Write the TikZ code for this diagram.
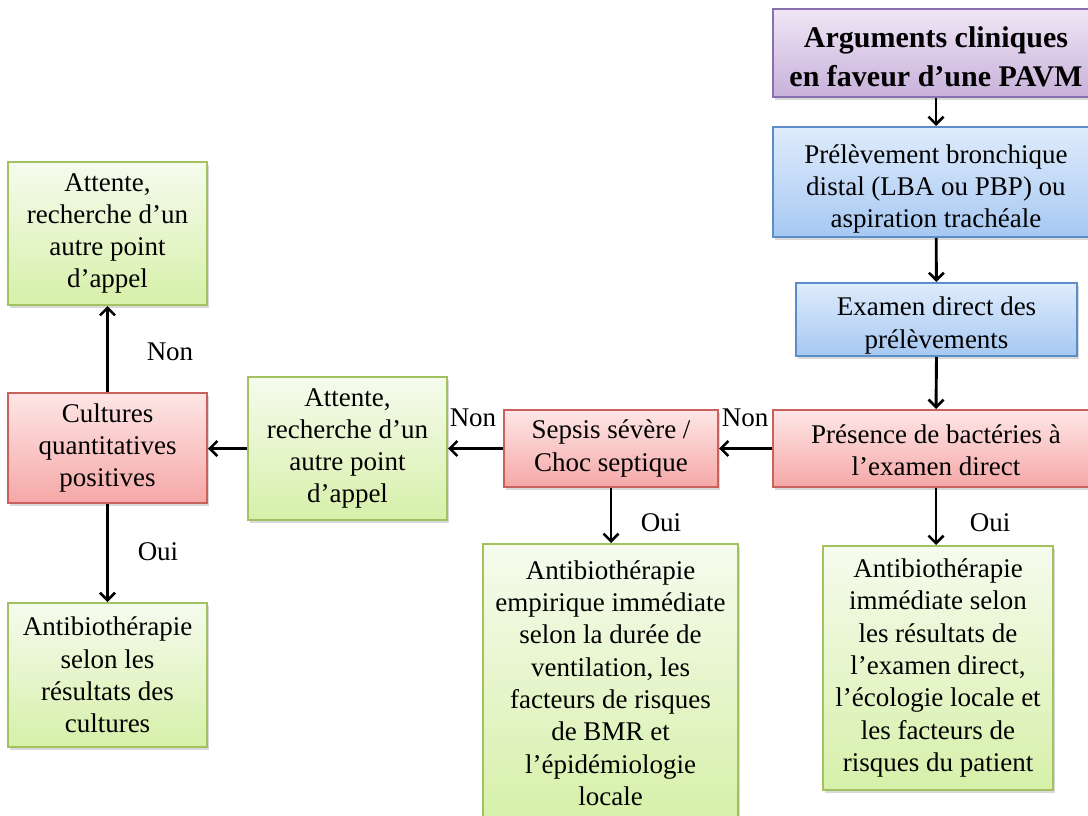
\documentclass[tikz,border=0pt]{standalone}
\usepackage{fontspec}
\setmainfont{Liberation Serif}
\usetikzlibrary{arrows.meta,shadows}
\definecolor{purpB}{HTML}{8A6FAE}
\definecolor{purpT}{HTML}{EFE6F6}
\definecolor{purpD}{HTML}{C8B1DA}
\definecolor{blueB}{HTML}{5B8DC9}
\definecolor{blueT}{HTML}{DFECFC}
\definecolor{blueD}{HTML}{A6C8F2}
\definecolor{redB}{HTML}{C9615D}
\definecolor{redT}{HTML}{FEE6E6}
\definecolor{redD}{HTML}{F5A8A7}
\definecolor{grnB}{HTML}{A2C160}
\definecolor{grnT}{HTML}{F6FBEE}
\definecolor{grnD}{HTML}{D6F0A9}
\tikzset{
  boxbase/.style={rectangle, inner sep=0pt, align=center, line width=2pt,
    font=\fontsize{27}{32.3}\selectfont,
    drop shadow={shadow xshift=2pt, shadow yshift=-3pt, opacity=0.25, fill=black!60}},
  purplebox/.style={boxbase, draw=purpB, top color=purpT, bottom color=purpD},
  bluebox/.style={boxbase, draw=blueB, top color=blueT, bottom color=blueD},
  redbox/.style={boxbase, draw=redB, top color=redT, bottom color=redD},
  greenbox/.style={boxbase, draw=grnB, top color=grnT, bottom color=grnD},
  boxtext/.style={inner sep=0pt, align=center, font=\fontsize{27}{32.3}\selectfont},
  arr/.style={line width=2.9pt, -{Straight Barb[length=7.5pt,width=15pt,line width=2.6pt]}},
  lbl/.style={font=\fontsize{27}{32.3}\selectfont, inner sep=0pt}
}
\begin{document}
\begin{tikzpicture}[x=1pt,y=-1pt]
\useasboundingbox (0,0) rectangle (1088,816);
\clip (0,0) rectangle (1088,816);
% boxes whose text sits a little low: shape and text drawn apart
\node[purplebox, minimum width=326pt, minimum height=88pt] (b1) at (936,53) {};
\node[boxtext, font=\fontsize{30}{38.5}\selectfont\bfseries] (b1t) at ([yshift=-4pt]b1.center)
  {Arguments cliniques\\en faveur d’une PAVM};
\node[bluebox, minimum width=326pt, minimum height=110pt] (b2) at (936,182) {};
\node[boxtext] (b2t) at ([yshift=-7pt]b2.center)
  {Prélèvement bronchique\\distal (LBA ou PBP) ou\\aspiration trachéale};
\node[bluebox, minimum width=281pt, minimum height=73pt] (b3) at (936.5,319.5) {};
\node[boxtext] (b3t) at ([yshift=-6pt]b3.center)
  {Examen direct des\\prélèvements};
\node[redbox, minimum width=326pt, minimum height=77pt] (b4) at (936,448.5) {};
\node[boxtext] (b4t) at ([yshift=-2pt]b4.center)
  {Présence de bactéries à\\l’examen direct};
% other boxes
\node[redbox, minimum width=214pt, minimum height=77pt] (sep) at (611,448.5)
  {Sepsis sévère /\\Choc septique};
\node[greenbox, minimum width=199pt, minimum height=143pt] (att2) at (347.5,448.5)
  {Attente,\\recherche d’un\\autre point\\d’appel};
\node[redbox, minimum width=199pt, minimum height=110pt] (cult) at (107.5,448)
  {Cultures\\quantitatives\\positives};
\node[greenbox, minimum width=199pt, minimum height=143pt] (att1) at (107.5,233.5)
  {Attente,\\recherche d’un\\autre point\\d’appel};
\node[greenbox, minimum width=199pt, minimum height=144pt] (abc) at (107.5,675)
  {Antibiothérapie\\selon les\\résultats des\\cultures};
\node[greenbox, minimum width=255pt, minimum height=278pt] (abe) at (610.5,683)
  {Antibiothérapie\\empirique immédiate\\selon la durée de\\ventilation, les\\facteurs de risques\\de BMR et\\l’épidémiologie\\locale};
\node[greenbox, minimum width=230pt, minimum height=244pt] (abi) at (938,668)
  {Antibiothérapie\\immédiate selon\\les résultats de\\l’examen direct,\\l’écologie locale et\\les facteurs de\\risques du patient};
% connectors
\draw[arr] (b1) -- (b2);
\draw[arr] (b2) -- (b3);
\draw[arr] (b3.south) -- (b4.north);
\draw[arr] (b4.south) -- (abi.north -| b4.south);
\draw[arr] (b4.west) -- (sep.east);
\draw[arr] (sep.west) -- (att2.east |- sep.west);
\draw[arr] (att2.west |- sep.west) -- (cult.east |- sep.west);
\draw[arr] (cult.north) -- (att1.south);
\draw[arr] (cult.south) -- (abc.north);
\draw[arr] (sep.south) -- (abe.north -| sep.south);
% labels
\node[lbl] (l1) at (745,418) {Non};
\node[lbl] (l2) at (473,418) {Non};
\node[lbl] (l3) at (170,352) {Non};
\node[lbl] (l4) at (158,552) {Oui};
\node[lbl] (l5) at (661,523) {Oui};
\node[lbl] (l6) at (990,523) {Oui};
\end{tikzpicture}
\end{document}
